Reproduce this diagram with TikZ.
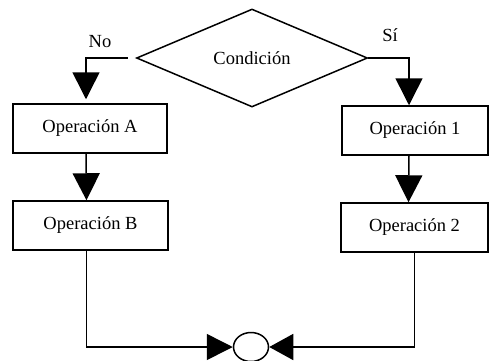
\documentclass[tikz,border=0pt]{standalone}
\usepackage{fontspec}
\setmainfont{Liberation Serif}
\usetikzlibrary{arrows.meta,shapes.geometric}

\begin{document}
\begin{tikzpicture}[
  x=1pt,y=-1pt,
  line width=1.5pt,
  txt/.style={font=\fontsize{18.5}{22}\selectfont},
  op/.style={draw,txt,inner sep=0pt,minimum height=49pt},
  dec/.style={draw,diamond,txt,inner sep=0pt,minimum width=231pt,minimum height=98pt},
  mergept/.style={draw,ellipse,inner sep=0pt,minimum width=35pt,minimum height=29pt},
  lbl/.style={txt,inner sep=0pt},
  arr/.style={-{Triangle[length=27pt,width=27pt]}}]
\useasboundingbox (0,0) rectangle (490,360);

% ---------- decision ----------
\node[dec] (cond) at (252,58) {Condición};
\node[lbl] (no) at (100,42) {No};
\node[lbl] (si) at (390,35) {Sí};

% ---------- left branch ----------
\node[op,minimum width=154pt] (opA) at (90,128.5) {Operación A};
\node[op,minimum width=155pt] (opB) at (90.5,225.5) {Operación B};

% ---------- right branch ----------
\node[op,minimum width=146pt] (op1) at (415,130.5) {Operación 1};
\node[op,minimum width=147pt] (op2) at (414.5,227.5) {Operación 2};

% ---------- merge point ----------
\node[mergept] (merge) at (251,347) {};

% arrows
\draw[arr,shorten <=8pt,shorten >=4pt] (cond.west) -| ([xshift=-4pt]opA.north);
\draw[arr] (cond.east) -| ([xshift=-6pt]op1.north);
\draw[arr] ([xshift=-4pt]opA.south) -- ([xshift=-4pt]opB.north);
\draw[arr] ([xshift=-6pt]op1.south) -- ([xshift=-6pt]op2.north);
\draw[-{Triangle[length=26pt,width=26pt]}] ([xshift=-4pt]opB.south) |- (merge.west);
\draw[-{Triangle[length=24pt,width=26pt]}] (op2.south) |- (merge.east);
\end{tikzpicture}
\end{document}
